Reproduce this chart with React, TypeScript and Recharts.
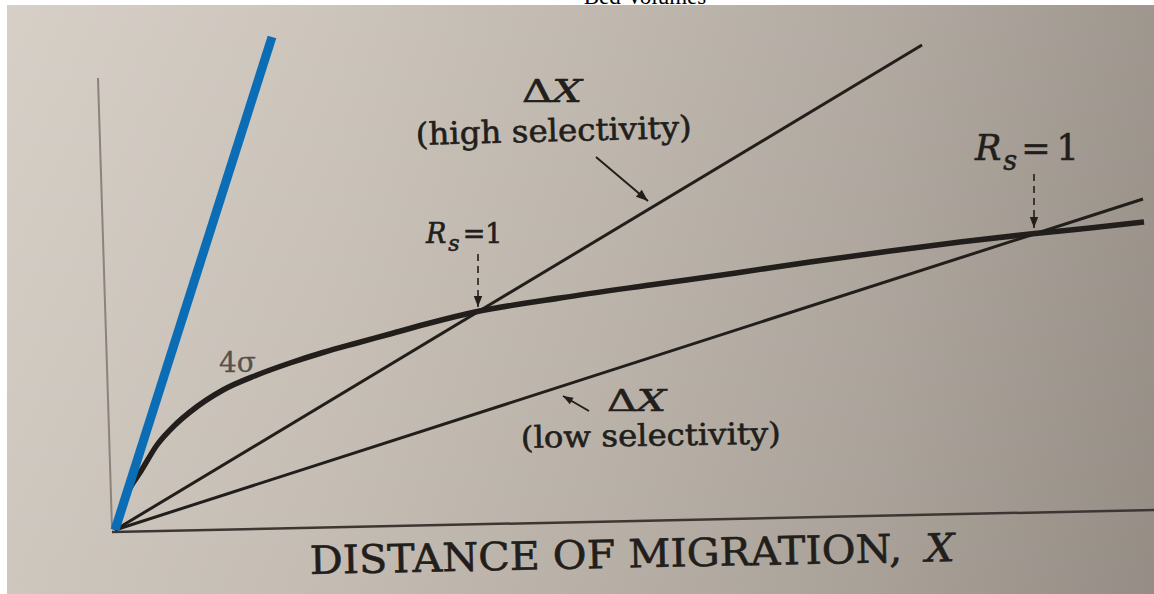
import React from 'react';
import { ComposedChart, Line, XAxis, YAxis } from 'recharts';

// plot units: x = distance of migration, y = band width / separation (origin at the corner of the axes)
const axisX = [{ x: -3, y: -2 }, { x: 1039, y: 20 }];
const axisY = [{ x: -3, y: 2 }, { x: -17, y: 452 }];

const steepLine = [{ x: 0, y: 0 }, { x: 157, y: 493 }];
const highSelectivity = [{ x: 0, y: 0 }, { x: 807, y: 485 }];
const lowSelectivity = [{ x: 0, y: 0 }, { x: 1028, y: 331 }];

const fourSigma = [
  { x: 0, y: 0 }, { x: 6, y: 22 }, { x: 15, y: 42 }, { x: 26, y: 59 },
  { x: 42, y: 85 }, { x: 60, y: 105 }, { x: 75, y: 118 }, { x: 108, y: 140 },
  { x: 142, y: 155 }, { x: 175, y: 167 }, { x: 208, y: 177.5 }, { x: 242, y: 187 },
  { x: 275, y: 196 }, { x: 315, y: 207 }, { x: 360, y: 218 }, { x: 445, y: 232 },
  { x: 535, y: 245 }, { x: 621, y: 257 }, { x: 695, y: 268 }, { x: 768, y: 278 },
  { x: 845, y: 288 }, { x: 915, y: 296 }, { x: 975, y: 302 }, { x: 1029, y: 308 },
];

// pointer arrows (tail -> head)
const highPointer = [{ x: 481, y: 373 }, { x: 533, y: 329 }];
const lowPointer = [{ x: 474, y: 119 }, { x: 448, y: 134 }];
const rsLeft = [{ x: 363, y: 276 }, { x: 363, y: 223 }];
const rsRight = [{ x: 919, y: 356 }, { x: 919, y: 302 }];

const INK = '#221e1b';

const arrowDot = (pts: { x: number; y: number }[], size: number) => (p: any) => {
  if (p.index !== pts.length - 1) return <g key={p.key} />;
  const a = pts[pts.length - 2];
  const b = pts[pts.length - 1];
  const ang = Math.atan2(-(b.y - a.y), b.x - a.x);
  const c = Math.cos(ang);
  const s = Math.sin(ang);
  const w = size * 0.38;
  const bx = p.cx - c * size;
  const by = p.cy - s * size;
  const d = `M${p.cx},${p.cy} L${bx - s * w},${by + c * w} L${bx + s * w},${by - c * w} Z`;
  return <path key={p.key} d={d} fill={INK} stroke="none" />;
};

const serif = '"DejaVu Serif", "Liberation Serif", serif';

const Labels = () => (
  <svg width={1154} height={594} style={{ position: 'absolute', left: 0, top: 0, pointerEvents: 'none' }}>
    <text x={645} y={4} textAnchor="middle" fontFamily="'Liberation Serif', serif" fontSize={23} fill="#000">
      Bed Volumes
    </text>
    <g fontFamily={serif} fill={INK} stroke={INK} strokeWidth={0.6}>
      <text x={522} y={102} fontSize={32} textLength={60} lengthAdjust="spacingAndGlyphs">
        Δ<tspan fontStyle="italic">X</tspan>
      </text>
      <text x={416} y={145} fontSize={31} textLength={276} lengthAdjust="spacingAndGlyphs"
        transform="rotate(-1.5 416 145)">
        (high selectivity)
      </text>
      <text x={426} y={243} fontSize={27}>
        <tspan fontStyle="italic">R</tspan>
        <tspan fontStyle="italic" fontSize={22} dy={8} dx={2}>s</tspan>
        <tspan dy={-8} dx={3}>=1</tspan>
      </text>
      <text x={975} y={160} fontSize={35}>
        <tspan fontStyle="italic">R</tspan>
        <tspan fontStyle="italic" fontSize={27} dy={10} dx={2}>s</tspan>
        <tspan dy={-10} dx={4}>=</tspan>
        <tspan dx={6}>1</tspan>
      </text>
      <text x={219} y={372} fontSize={28} fill="#57514b" stroke="#57514b" strokeWidth={0.3}>4σ</text>
      <text x={607} y={411} fontSize={29} textLength={59} lengthAdjust="spacingAndGlyphs">
        Δ<tspan fontStyle="italic">X</tspan>
      </text>
      <text x={521} y={448} fontSize={30} textLength={260} lengthAdjust="spacingAndGlyphs"
        transform="rotate(-1 521 448)">
        (low selectivity)
      </text>
      <text x={310} y={574} fontSize={39} textLength={645} lengthAdjust="spacingAndGlyphs"
        transform="rotate(-1.15 310 574)">
        DISTANCE OF MIGRATION,<tspan dx={22} fontStyle="italic">X</tspan>
      </text>
    </g>
  </svg>
);

const lineProps = { type: 'linear' as const, dot: false, activeDot: false, isAnimationActive: false, dataKey: 'y' };

export default function App() {
  return (
    <div style={{ position: 'absolute', left: 0, top: 0, width: 1154, height: 594, background: '#fff' }}>
      <div
        style={{
          position: 'absolute',
          left: 7,
          top: 5,
          width: 1147,
          height: 589,
          background:
            'linear-gradient(180deg, rgba(255,255,255,0.05) 0%, rgba(0,0,0,0.03) 100%), linear-gradient(90deg, #d4cdc4 0%, #cac2b8 28%, #bdb5ab 52%, #aea69d 76%, #9a9289 100%)',
        }}
      />
      <div style={{ position: 'absolute', left: 0, top: 0 }}>
        <ComposedChart width={1154} height={594} margin={{ top: 0, right: 0, bottom: 0, left: 0 }}>
          <XAxis type="number" dataKey="x" domain={[-115, 1039]} allowDataOverflow hide />
          <YAxis type="number" dataKey="y" domain={[-64, 530]} allowDataOverflow hide />
          <Line {...lineProps} data={axisY} stroke="#8a847d" strokeWidth={2} />
          <Line {...lineProps} data={axisX} stroke="#3d3733" strokeWidth={2.5} />
          <Line {...lineProps} data={lowSelectivity} stroke={INK} strokeWidth={3} />
          <Line {...lineProps} data={highSelectivity} stroke={INK} strokeWidth={3} />
          <Line {...lineProps} data={fourSigma} type="monotone" stroke={INK} strokeWidth={5.5} />
          <Line {...lineProps} data={highPointer} stroke={INK} strokeWidth={2} dot={arrowDot(highPointer, 12)} />
          <Line {...lineProps} data={lowPointer} stroke={INK} strokeWidth={2} dot={arrowDot(lowPointer, 10)} />
          <Line {...lineProps} data={rsLeft} stroke={INK} strokeWidth={1.6} strokeDasharray="7 5" dot={arrowDot(rsLeft, 11)} />
          <Line {...lineProps} data={rsRight} stroke={INK} strokeWidth={1.6} strokeDasharray="7 5" dot={arrowDot(rsRight, 11)} />
          <Line {...lineProps} data={steepLine} stroke="#0b6db5" strokeWidth={9} />
        </ComposedChart>
      </div>
      <Labels />
    </div>
  );
}
